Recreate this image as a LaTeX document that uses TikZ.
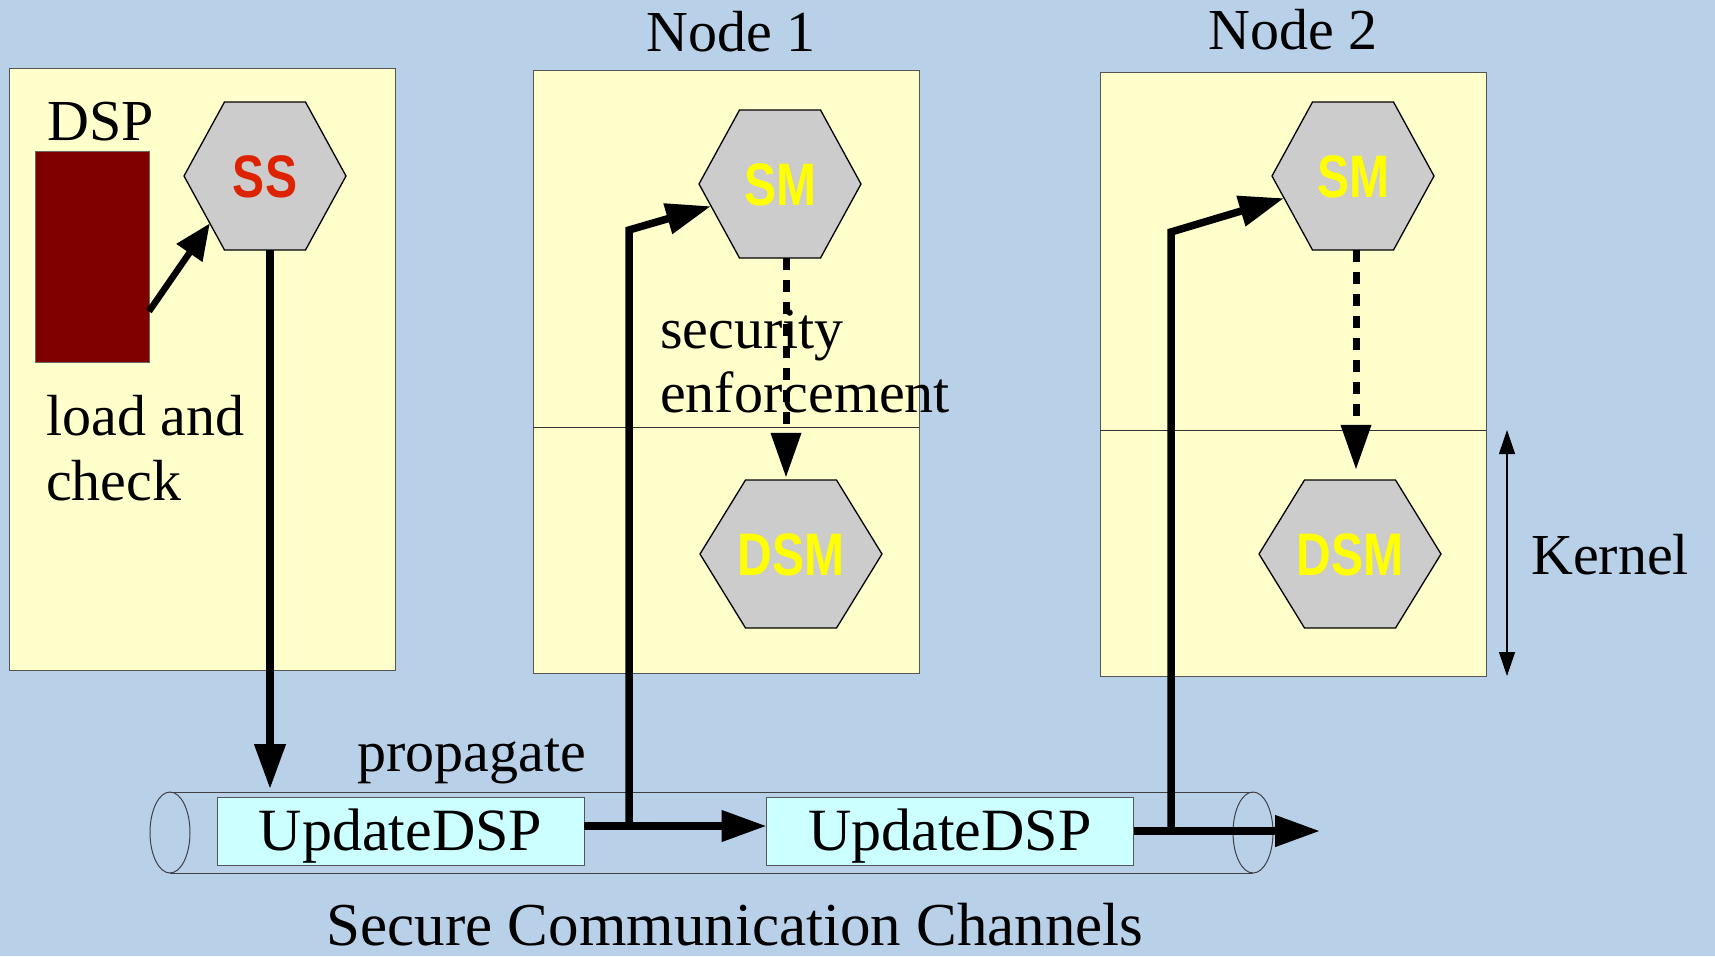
\documentclass[tikz,border=0pt]{standalone}
\usepackage{fontspec}
\setmainfont{Liberation Serif}
\newfontfamily\hexfont[FakeStretch=0.8]{Liberation Sans}
\usetikzlibrary{arrows.meta,calc}
\definecolor{bgblue}{HTML}{B9D1E8}
\definecolor{panelyellow}{HTML}{FFFFCC}
\definecolor{updcyan}{HTML}{CCFFFF}
\definecolor{hexgray}{HTML}{CCCCCC}
\definecolor{dspred}{HTML}{800000}
\definecolor{ssred}{HTML}{DD2200}
\definecolor{smyellow}{HTML}{FFFF00}
\definecolor{edgegray}{HTML}{555555}
\newcommand\bigtext{\fontsize{58}{64}\selectfont}
\newcommand\hexnode[7]{%
  \filldraw[hexshape] (#2-#4,#3) -- (#2-#4/2,#3-#5) -- (#2+#4/2,#3-#5) -- (#2+#4,#3) -- (#2+#4/2,#3+#5) -- (#2-#4/2,#3+#5) -- cycle;
  \coordinate (#1-bl) at (#2-#4/2,#3+#5);
  \node[hexlabel, text=#6, minimum width=2*#4, minimum height=2*#5] (#1) at (#2,#3) {#7};
}
\begin{document}
\begin{tikzpicture}[x=1pt,y=-1pt,
  panel/.style={draw=edgegray, line width=1pt, fill=panelyellow, inner sep=0pt, outer sep=0pt},
  divider/.style={draw=black!80, line width=0.9pt},
  label/.style={font=\bigtext, inner sep=0pt, text=black},
  hexshape/.style={fill=hexgray, draw=black, line width=1.3pt},
  hexlabel/.style={font=\hexfont\bfseries\fontsize{60}{60}\selectfont, inner sep=0pt, text height=43pt, text depth=0pt},
  updbox/.style={draw=edgegray, line width=1pt, fill=updcyan, minimum width=367pt, minimum height=68pt, inner sep=0pt, outer sep=0pt, font=\fontsize{60}{64}\selectfont, text height=39pt, text depth=0pt},
  thickarrow/.style={line width=7.5pt, -{Triangle[length=45pt,width=30pt]}},
  thinarrow/.style={line width=6.5pt, -{Triangle[length=36pt,width=30pt]}},
  dasharrow/.style={line width=7pt, dash pattern=on 12pt off 10pt, -{Triangle[length=45pt,width=29pt]}},
  kernarrow/.style={line width=1.2pt, {Triangle[length=24pt,width=16pt]}-{Triangle[length=24pt,width=16pt]}},
  pipe/.style={draw=black!75, line width=1pt}
]
\fill[bgblue] (0,0) rectangle (1715,956);
\useasboundingbox (0,0) rectangle (1715,956);

% panels
\node[panel, minimum width=386pt, minimum height=602pt] (lbox) at (202,369) {};
\node[panel, minimum width=386pt, minimum height=603pt] (n1box) at (726,371.5) {};
\node[panel, minimum width=386pt, minimum height=604pt] (n2box) at (1293,374) {};
\draw[divider] (n1box.west |- 0,427) -- (n1box.east |- 0,427);
\draw[divider] (n2box.west |- 0,430) -- (n2box.east |- 0,430);

% labels
\node[label, anchor=base] (node1lbl) at (731,51) {Node 1};
\node[label, anchor=base] (node2lbl) at (1293,49) {Node 2};
\node[label, anchor=base west] (dsplbl) at (47,140) {DSP};
\node[label, anchor=base west] (load1) at (46,435) {load and};
\node[label, anchor=base west] (load2) at (46,500) {check};
\node[label, anchor=base west] (sec1) at (660,348) {security};
\node[label, anchor=base west] (sec2) at (660,412) {enforcement};
\node[label, anchor=base west] (prop) at (357,771) {propagate};
\node[label, anchor=base west] (kern) at (1531,574) {Kernel};
\node[label, anchor=base, font=\fontsize{61}{64}\selectfont] (scc) at (735,945) {Secure Communication Channels};

% DSP block
\node[draw=black!60, line width=0.8pt, fill=dspred, minimum width=114pt, minimum height=211pt, inner sep=0pt, outer sep=0pt] (dsprect) at (92,256.5) {};

% hexagons
\hexnode{ss}{265}{176}{81}{74}{ssred}{SS}
\hexnode{sm1}{780}{184}{81}{74}{smyellow}{SM}
\hexnode{dsm1}{791}{554}{91}{74}{smyellow}{DSM}
\hexnode{sm2}{1353}{176}{81}{74}{smyellow}{SM}
\hexnode{dsm2}{1350}{554}{91}{74}{smyellow}{DSM}

% pipe
\draw[pipe] (170,792) -- (1253,792);
\draw[pipe] (170,873) -- (1253,873);
\draw[pipe] (170,832.5) ellipse [x radius=20, y radius=40.5];
\draw[pipe] (1253,832.5) ellipse [x radius=20, y radius=40.5];

% update boxes
\node[updbox] (upd1) at (400.5,831) {UpdateDSP};
\node[updbox] (upd2) at (950,831) {UpdateDSP};

% coordinates
\coordinate (j1) at (629,826);
\coordinate (c1) at (629,230);
\coordinate (j2) at (1171,831);
\coordinate (c2) at (1171,232);
\coordinate (out) at (1320,831);
\coordinate (k1) at (1507,430);
\coordinate (k2) at (1507,676);

% connectors
\draw[thinarrow] ($(dsprect.south east)!0.24!(dsprect.north east)$) -- ($(ss.west)!0.64!(ss-bl)$);
\draw[thickarrow] ([xshift=5pt]ss.south) -- ([xshift=5pt,yshift=8pt]ss.south |- upd1.north);
\draw[thickarrow] ([yshift=5pt]upd1.east) -- ([yshift=5pt]upd2.west);
\draw[thickarrow] (j1) -- (c1) -- ($(sm1.west)!0.3!(sm1-bl)$);
\draw[thickarrow] (upd2.east) -- (out);
\draw[thickarrow] (j2) -- (c2) -- ($(sm2.west)!0.3!(sm2-bl)$);
\draw[dasharrow] ([xshift=6pt]sm1.south) -- ([xshift=6pt,yshift=2pt]sm1.south |- dsm1.north);
\draw[dasharrow] ([xshift=3pt]sm2.south) -- ([xshift=3pt,yshift=10pt]sm2.south |- dsm2.north);
\draw[kernarrow] (k1) -- (k2);
\end{tikzpicture}
\end{document}
